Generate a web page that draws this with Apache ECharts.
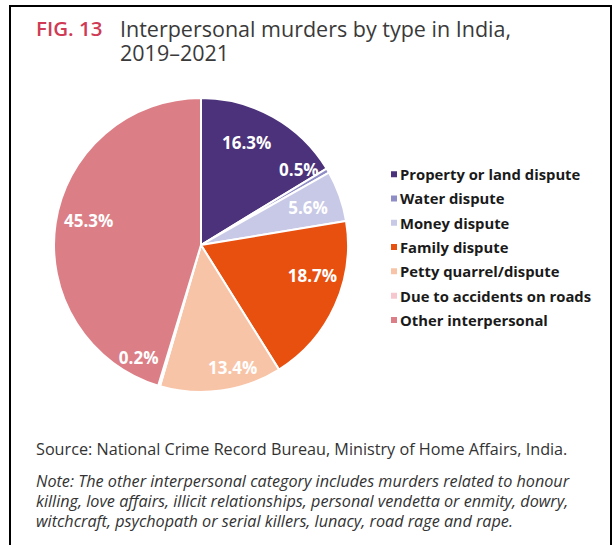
<!DOCTYPE html>
<html>
<head>
<meta charset="utf-8">
<script src="https://cdn.jsdelivr.net/npm/echarts@6/dist/echarts.min.js"></script>
<style>
html, body { margin: 0; padding: 0; background: #fff; }
#chart { width: 614px; height: 545px; }
</style>
</head>
<body>
<div id="chart"></div>
<script>
// murder types, clockwise from 12 o'clock
let categories = ['Property or land dispute', 'Water dispute', 'Money dispute', 'Family dispute',
                  'Petty quarrel/dispute', 'Due to accidents on roads', 'Other interpersonal'];
let shares = [16.3, 0.5, 5.6, 18.7, 13.4, 0.2, 45.3]; // percent
let colors = ['#4b327a', '#8f8dc6', '#c8c9e6', '#e85010', '#f8c4a8', '#f6c8cd', '#dc7e86'];

let titleLine1 = 'Interpersonal murders by type in India,';
let titleLine2 = '2019–2021';
let sourceText = 'Source: National Crime Record Bureau, Ministry of Home Affairs, India.';
let noteLines = [
  'Note: The other interpersonal category includes murders related to honour',
  'killing, love affairs, illicit relationships, personal vendetta or enmity, dowry,',
  'witchcraft, psychopath or serial killers, lunacy, road rage and rape.'
];

window.onload = function() {
  var myChart = echarts.init(document.getElementById('chart'), null, { renderer: 'svg' });

  // 라벨 위치 약간 보정
  var labelOffsets = { 'Water dispute': [0, -18], 'Due to accidents on roads': [-30, 4],
                       'Family dispute': [8, -16], 'Petty quarrel/dispute': [16, 10],
                       'Property or land dispute': [-10, -4], 'Other interpersonal': [0, -8] };

  var pieData = categories.map(function(name, i) {
    return { name: name, value: shares[i], itemStyle: { color: colors[i] } };
  });
  var labelData = categories.map(function(name, i) {
    return { name: name, value: shares[i], label: { offset: labelOffsets[name] || [0, 0] } };
  });

  var font = '"Open Sans", sans-serif';
  var graphics = [
    { type: 'polyline', shape: { points: [[10, 545], [10, 6], [611, 6], [611, 545]] },
      style: { stroke: '#000', lineWidth: 2, fill: null } },
    { type: 'text', left: 36, top: 16, style: { text: 'FIG. 13', fill: '#cf3a55', font: '600 20.5px ' + font, lineHeight: 24 } },
    { type: 'text', left: 120, top: 16, style: { text: titleLine1 + '\n' + titleLine2, fill: '#3a3a3a', font: '21.5px ' + font, lineHeight: 24 } },
    { type: 'text', left: 36, top: 441, style: { text: sourceText, fill: '#333', font: '16.2px ' + font } },
    { type: 'text', left: 36, top: 471, style: { text: noteLines.join('\n'), fill: '#333', font: 'italic 16.2px ' + font, lineHeight: 20 } }
  ];

  var option = {
    animation: false,
    backgroundColor: '#fff',
    graphic: graphics,
    legend: {
      orient: 'vertical',
      left: 384,
      top: 161,
      data: categories,
      icon: 'rect',
      itemWidth: 8,
      itemHeight: 8,
      itemGap: 8,
      selectedMode: false,
      textStyle: { fontFamily: font, fontWeight: 'bold', fontSize: 14.8, color: '#1a1a1a', lineHeight: 16.3, padding: [0, 0, 0, -3] }
    },
    series: [
      {
        type: 'pie',
        center: [201, 245],
        radius: [0, 147],
        startAngle: 90,
        clockwise: true,
        avoidLabelOverlap: false,
        silent: true,
        itemStyle: { borderColor: '#fff', borderWidth: 2 },
        label: { show: false },
        labelLine: { show: false },
        data: pieData
      },
      {
        // 라벨만 그리는 투명 링
        type: 'pie',
        center: [201, 245],
        radius: [74, 147],
        startAngle: 90,
        clockwise: true,
        avoidLabelOverlap: false,
        silent: true,
        itemStyle: { color: 'rgba(0,0,0,0)', borderWidth: 0 },
        label: {
          show: true,
          position: 'inside',
          formatter: function(p) { return p.value.toFixed(1) + '%'; },
          color: '#fff',
          fontFamily: font,
          fontWeight: 'bold',
          fontSize: 17
        },
        labelLine: { show: false },
        data: labelData
      }
    ]
  };
  myChart.setOption(option);
};
</script>
</body>
</html>
